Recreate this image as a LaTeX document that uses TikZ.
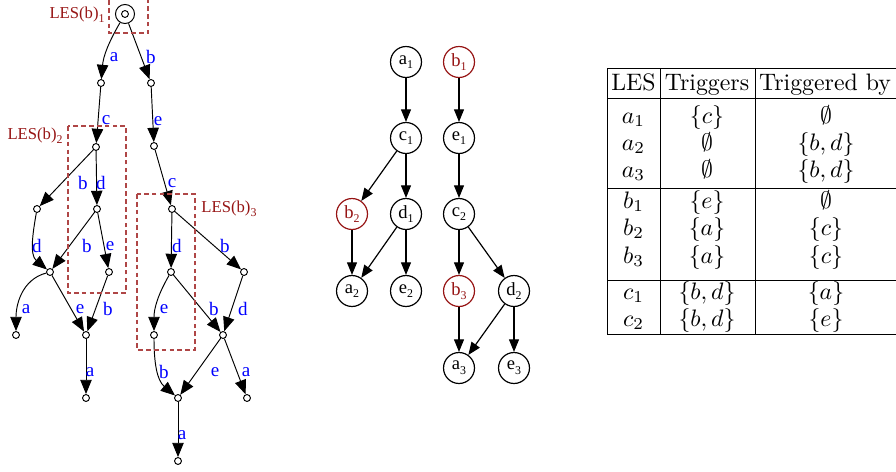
\documentclass[tikz,border=0pt]{standalone}
\usepackage{fontspec}
\newfontfamily\gv{Liberation Serif}
\usetikzlibrary{arrows.meta}
\definecolor{lesred}{RGB}{150,20,20}
\definecolor{boxred}{RGB}{175,70,70}
\definecolor{lblue}{RGB}{0,0,255}
\newcommand\sbs[1]{\raisebox{-0.55ex}{\fontsize{5}{5}\selectfont #1}}
\begin{document}
\begin{tikzpicture}[x=0.42pt,y=-0.42pt,
 st/.style={circle,draw,line width=0.4pt,inner sep=0pt,minimum size=2.9pt},
 ev/.style={circle,draw,line width=0.5pt,inner sep=0pt,minimum size=13pt,font=\gv\fontsize{7.8}{8}\selectfont},
 evr/.style={ev,draw=lesred,text=lesred},
 lbl/.style={font=\gv\fontsize{8}{9}\selectfont,text=lblue,inner sep=0pt},
 les/.style={font=\gv\fontsize{7}{8}\selectfont,text=lesred,inner sep=0pt},
 tr/.style={-{Triangle[length=6pt,width=4.8pt]},line width=0.4pt},
 tm/.style={-{Triangle[length=5.3pt,width=4.2pt]},line width=0.5pt},
 dbox/.style={draw=boxred,dash pattern=on 2pt off 1.3pt,line width=0.5pt},
 tb/.style={anchor=base,inner sep=0pt,font=\fontsize{10}{12}\selectfont},
 tl/.style={line width=0.4pt}
]
\useasboundingbox (0,0) rectangle (896,471);

% ---------- left graph ----------
\node[circle,draw,minimum size=8pt,inner sep=0pt,line width=0.4pt] (root) at (125,14) {};
\node[st] (rooti) at (125,14) {};
\node[st] (n1) at (101,83) {};
\node[st] (n2) at (151,83) {};
\node[st] (n3) at (96,147) {};
\node[st] (n4) at (154,146) {};
\node[st] (n5) at (37,209) {};
\node[st] (n6) at (97,209) {};
\node[st] (n7) at (50,272) {};
\node[st] (n8) at (109,272) {};
\node[st] (n9) at (16,335) {};
\node[st] (n10) at (86,335) {};
\node[st] (n11) at (86,398) {};
\node[st] (m1) at (172,209) {};
\node[st] (m2) at (171,272) {};
\node[st] (m3) at (244,272) {};
\node[st] (m4) at (154,335) {};
\node[st] (m5) at (223,335) {};
\node[st] (m6) at (247,398) {};
\node[st] (m7) at (178,398) {};
\node[st] (m8) at (178,461) {};

\draw[tr] (root) to[out=-120,in=85] (n1);
\draw[tr] (root) -- (n2);
\draw[tr] (n1) -- (n3);
\draw[tr] (n2) -- (n4);
\draw[tr] (n3) -- (n5);
\draw[tr] (n3) -- (n6);
\draw[tr] (n5) to[out=-100,in=140] (n7);
\draw[tr] (n6) -- (n7);
\draw[tr] (n6) -- (n8);
\draw[tr] (n7) to[out=195,in=90] (n9);
\draw[tr] (n7) -- (n10);
\draw[tr] (n8) -- (n10);
\draw[tr] (n10) -- (n11);
\draw[tr] (n4) -- (m1);
\draw[tr] (m1) -- (m2);
\draw[tr] (m1) -- (m3);
\draw[tr] (m2) to[out=-120,in=90] (m4);
\draw[tr] (m2) -- (m5);
\draw[tr] (m3) -- (m5);
\draw[tr] (m4) to[out=-90,in=140] (m7);
\draw[tr] (m5) -- (m7);
\draw[tr] (m5) -- (m6);
\draw[tr] (m7) -- (m8);

\node[lbl] (l1) at (114,57) {a};
\node[lbl] (l2) at (151,57) {b};
\node[lbl] (l3) at (106,120) {c};
\node[lbl] (l4) at (158,121) {e};
\node[lbl] (l5) at (83,183) {b};
\node[lbl] (l6) at (101,183) {d};
\node[lbl] (l7) at (37,246) {d};
\node[lbl] (l8) at (87,246) {b};
\node[lbl] (l9) at (110,246) {e};
\node[lbl] (l10) at (26,309) {a};
\node[lbl] (l11) at (80,309) {e};
\node[lbl] (l12) at (108,309) {b};
\node[lbl] (l13) at (90,372) {a};
\node[lbl] (l14) at (172,183) {c};
\node[lbl] (l15) at (177,246) {d};
\node[lbl] (l16) at (225,246) {b};
\node[lbl] (l17) at (164,309) {e};
\node[lbl] (l18) at (214,309) {b};
\node[lbl] (l19) at (243,309) {d};
\node[lbl] (l20) at (164,372) {b};
\node[lbl] (l21) at (215,372) {e};
\node[lbl] (l22) at (246,372) {a};
\node[lbl] (l23) at (182,435) {a};

\draw[dbox] (109,0) -- (109,33) -- (148,33) -- (148,0);
\draw[dbox] (68,126) rectangle (126,293);
\draw[dbox] (137,194) rectangle (195,350);
\node[les,anchor=east] (les1) at (105,15) {LES(b)\sbs{1}};
\node[les,anchor=east] (les2) at (63,136) {LES(b)\sbs{2}};
\node[les,anchor=west] (les3) at (201,209) {LES(b)\sbs{3}};

% ---------- middle graph ----------
\node[ev] (a1) at (406,62) {a\sbs{1}};
\node[evr] (b1) at (459,62) {b\sbs{1}};
\node[ev] (c1) at (406,138) {c\sbs{1}};
\node[ev] (e1) at (459,138) {e\sbs{1}};
\node[evr] (b2) at (352,214) {b\sbs{2}};
\node[ev] (d1) at (406,214) {d\sbs{1}};
\node[ev] (c2) at (459,214) {c\sbs{2}};
\node[ev] (a2) at (352,291) {a\sbs{2}};
\node[ev] (e2) at (406,291) {e\sbs{2}};
\node[evr] (b3) at (459,291) {b\sbs{3}};
\node[ev] (d2) at (514,291) {d\sbs{2}};
\node[ev] (a3) at (459,368) {a\sbs{3}};
\node[ev] (e3) at (514,368) {e\sbs{3}};

\draw[tm] (a1) -- (c1);
\draw[tm] (c1) -- (b2);
\draw[tm] (c1) -- (d1);
\draw[tm] (b2) -- (a2);
\draw[tm] (d1) -- (a2);
\draw[tm] (d1) -- (e2);
\draw[tm] (b1) -- (e1);
\draw[tm] (e1) -- (c2);
\draw[tm] (c2) -- (b3);
\draw[tm] (c2) -- (d2);
\draw[tm] (b3) -- (a3);
\draw[tm] (d2) -- (a3);
\draw[tm] (d2) -- (e3);

% ---------- table ----------
\draw[tl] (607,68) -- (897,68);
\draw[tl] (607,98) -- (897,98);
\draw[tl] (607,188) -- (897,188);
\draw[tl] (607,280) -- (897,280);
\draw[tl] (607,334) -- (897,334);
\draw[tl] (607,68) -- (607,334);
\draw[tl] (660,68) -- (660,334);
\draw[tl] (755,68) -- (755,334);

\node[tb] (h1) at (633.5,90) {LES};
\node[tb] (h2) at (707,90) {Triggers};
\node[tb] (h3) at (825,90) {Triggered by};

\node[tb] (r1a) at (633.5,123) {$a_1$};
\node[tb] (r1b) at (707,123) {$\{c\}$};
\node[tb] (r1c) at (826,123) {$\emptyset$};
\node[tb] (r2a) at (633.5,150) {$a_2$};
\node[tb] (r2b) at (707,150) {$\emptyset$};
\node[tb] (r2c) at (826,150) {$\{b,d\}$};
\node[tb] (r3a) at (633.5,177) {$a_3$};
\node[tb] (r3b) at (707,177) {$\emptyset$};
\node[tb] (r3c) at (826,177) {$\{b,d\}$};
\node[tb] (r4a) at (633.5,208) {$b_1$};
\node[tb] (r4b) at (707,208) {$\{e\}$};
\node[tb] (r4c) at (826,208) {$\emptyset$};
\node[tb] (r5a) at (633.5,235) {$b_2$};
\node[tb] (r5b) at (707,235) {$\{a\}$};
\node[tb] (r5c) at (826,235) {$\{c\}$};
\node[tb] (r6a) at (633.5,263) {$b_3$};
\node[tb] (r6b) at (707,263) {$\{a\}$};
\node[tb] (r6c) at (826,263) {$\{c\}$};
\node[tb] (r7a) at (633.5,299) {$c_1$};
\node[tb] (r7b) at (707,299) {$\{b,d\}$};
\node[tb] (r7c) at (826,299) {$\{a\}$};
\node[tb] (r8a) at (633.5,326) {$c_2$};
\node[tb] (r8b) at (707,326) {$\{b,d\}$};
\node[tb] (r8c) at (826,326) {$\{e\}$};
\end{tikzpicture}
\end{document}
